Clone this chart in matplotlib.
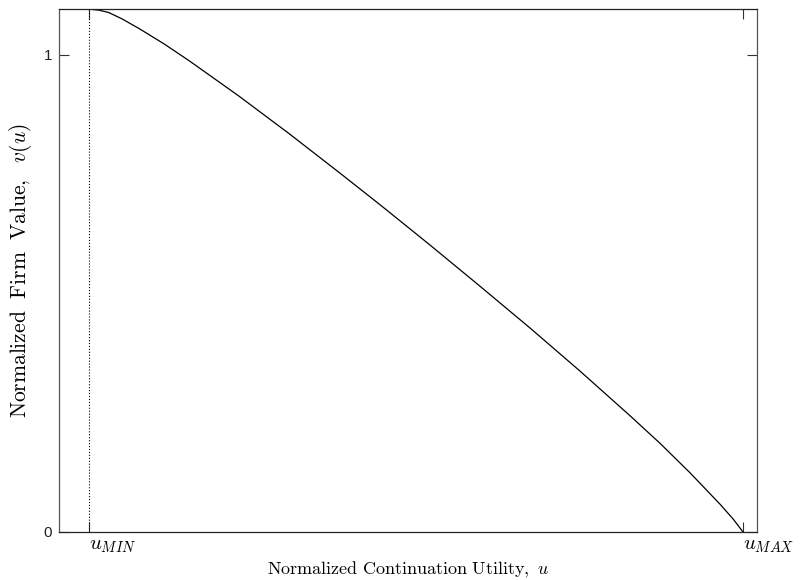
import numpy as np
import matplotlib
matplotlib.use('Agg')
import matplotlib.pyplot as plt

plt.rcParams['mathtext.fontset'] = 'cm'

# normalized continuation utility (0 = u_MIN, 1 = u_MAX) and firm value
u = [0.000, 0.015, 0.030, 0.050, 0.077, 0.115, 0.153, 0.229, 0.306, 0.384,
     0.445, 0.521, 0.598, 0.674, 0.751, 0.827, 0.873, 0.919, 0.965, 0.985,
     1.000]
v = [1.096, 1.094, 1.089, 1.076, 1.055, 1.023, 0.988, 0.914, 0.835, 0.752,
     0.686, 0.602, 0.515, 0.428, 0.337, 0.244, 0.186, 0.124, 0.058, 0.027,
     0.000]

xticks = [0.0, 1.0]
xticklabels = [r'$u_{MIN}$', r'$u_{MAX}$']
yticks = [0, 1]
yticklabels = ['0', '1']

fig = plt.figure(figsize=(8.02, 5.80), dpi=100)
ax = fig.add_axes([0.0736, 0.0828, 0.8703, 0.9017])

ax.plot(u, v, color='black', lw=0.9)
ax.plot([u[0], u[0]], [0, v[0]], color='black', lw=0.8, ls=':')

ax.set_xlim(-0.0459, 1.0214)
ax.set_ylim(0, 1.0964)

ax.set_xticks(xticks)
ax.set_xticklabels(xticklabels, fontsize=15)
ax.set_yticks(yticks)
ax.set_yticklabels(yticklabels, fontsize=11, family='Liberation Sans', color='#222222')
ax.tick_params(direction='in', length=7, width=0.8, color='#333333',
               top=True, right=True, pad=5)
for lab in ax.get_xticklabels():
    lab.set_horizontalalignment('left')
ax.tick_params(axis='x', pad=2)

for side in ['left', 'right']:
    ax.spines[side].set_color('#555555')
for side in ['top', 'bottom']:
    ax.spines[side].set_color('#222222')
for s in ax.spines.values():
    s.set_linewidth(0.9)

ax.set_xlabel(r'$\mathrm{Normalized\ Continuation\ Utility,}\ u$', fontsize=13, labelpad=4)
ax.set_ylabel(r'$\mathrm{Normalized\ \ Firm\ \ Value,}\ \ v(u)$', fontsize=15.5, labelpad=7)

fig.savefig('out.png', dpi=100)
